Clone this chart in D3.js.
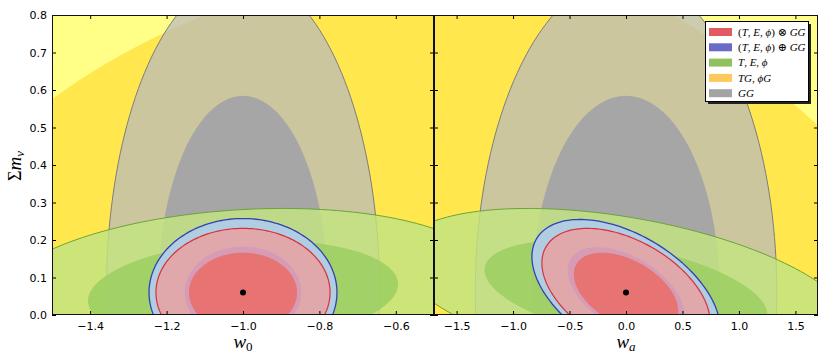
<!DOCTYPE html>
<html>
<head>
<meta charset="utf-8">
<script src="https://cdn.jsdelivr.net/npm/d3@7"></script>
<style>
  body { margin: 0; background: #fff; }
  svg { display: block; }
</style>
</head>
<body>
<svg id="chart" width="830" height="363"></svg>
<script>
// fiducial model
const fidW0 = -1.0;
const fidWa = 0.0;
const fidMnu = 0.06;

// probes: TG,phiG / GG / T,E,phi / (T,E,phi)+GG / (T,E,phi)xGG
const probes = ['TGphiG', 'GG', 'TEphi', 'plus', 'times'];
// 1-sigma widths and correlations
const sigW0 = [0.69, 0.146, 0.267, 0.1004, 0.093];
const sigWa = [2.34, 0.545, 0.824, 0.34, 0.304];
const sigMnuW0 = [0.56, 0.345, 0.0915, 0.0805, 0.0698];
const sigMnuWa = [0.651, 0.345, 0.0915, 0.0795, 0.0698];
const rhoW0 = [0.41, 0, 0.16, 0, 0];
const rhoWa = [-0.57, 0, -0.43, -0.49, -0.46];
const levels = [2.45, 1.52]; // 95% then 68%

const w0Ticks = [-1.4, -1.2, -1.0, -0.8, -0.6];
const waTicks = [-1.5, -1.0, -0.5, 0.0, 0.5, 1.0, 1.5];
const mnuTicks = [0.0, 0.1, 0.2, 0.3, 0.4, 0.5, 0.6, 0.7, 0.8];

// legend labels as [text, italic] pieces
const legendLabels = [
  [['(', 0], ['T', 1], [', ', 0], ['E', 1], [', ', 0], ['\u03d5', 1], [')', 0], [' \u2297 ', 0], ['GG', 1]],
  [['(', 0], ['T', 1], [', ', 0], ['E', 1], [', ', 0], ['\u03d5', 1], [')', 0], [' \u2295 ', 0], ['GG', 1]],
  [['T', 1], [', ', 0], ['E', 1], [', ', 0], ['\u03d5', 1]],
  [['TG', 1], [', ', 0], ['\u03d5G', 1]],
  [['GG', 1]]
];
const legendColors = ['#e15a5f', '#6a6ac8', '#91c060', '#ffc85a', '#a3a3a3'];

// draw order: [probe, level]
const drawOrder = [[0, 0], [0, 1], [1, 0], [1, 1], [2, 0], [2, 1], [3, 0], [4, 0], [3, 1], [4, 1]];
const layerStyle = {
  '0-0': { fill: '#ffff88', op: 1 },
  '0-1': { fill: '#ffe74d', op: 1 },
  '1-0': { fill: 'rgb(187,187,187)', op: 0.75, stroke: '#7d7d7d' },
  '1-1': { fill: '#a6a6a6', op: 1 },
  '2-0': { fill: 'rgb(195,227,129)', op: 0.83, stroke: '#6aa43a' },
  '2-1': { fill: 'rgb(154,206,96)', op: 0.83 },
  '3-0': { fill: '#b1cde1', op: 1, stroke: '#3042b4', sw: 1.3 },
  '4-0': { fill: '#e1a8ac', op: 1, stroke: '#d8303a', sw: 1.2 },
  '3-1': { fill: '#d69bb5', op: 1 },
  '4-1': { fill: '#e77373', op: 1 }
};

const svg = d3.select('#chart');
const y = d3.scaleLinear().domain([0, 0.8]).range([315, 15]);

const panels = [
  { id: 'w0', x: d3.scaleLinear().domain([-1.5, -0.5]).range([52, 434]), ticks: w0Ticks,
    fid: fidW0, sx: sigW0, sy: sigMnuW0, rho: rhoW0, sub: '0', subItalic: false },
  { id: 'wa', x: d3.scaleLinear().domain([-1.7, 1.7]).range([434, 818]), ticks: waTicks,
    fid: fidWa, sx: sigWa, sy: sigMnuWa, rho: rhoWa, sub: 'a', subItalic: true }
];

function ellipse(cx, cy, sx, sy, rho, k) {
  const c = Math.sqrt(1 - rho * rho);
  return d3.range(0, 360, 2).map(a => {
    const t = a * Math.PI / 180;
    return [cx + k * sx * Math.cos(t), cy + k * sy * (rho * Math.cos(t) + c * Math.sin(t))];
  });
}

const fmt = d3.format('.1f');

panels.forEach((p, pi) => {
  const [x0, x1] = p.x.range();
  const clipId = 'clip-' + p.id;
  svg.append('clipPath').attr('id', clipId)
    .append('rect').attr('x', x0).attr('y', 15).attr('width', x1 - x0).attr('height', 300);

  const g = svg.append('g').attr('clip-path', `url(#${clipId})`);
  g.append('rect').attr('x', x0).attr('y', 15).attr('width', x1 - x0).attr('height', 300).attr('fill', '#fff');

  const line = d3.line().x(d => p.x(d[0])).y(d => y(d[1])).curve(d3.curveLinearClosed);

  g.selectAll('path.cl')
    .data(drawOrder)
    .join('path')
    .attr('class', 'cl')
    .attr('d', ([i, l]) => line(ellipse(p.fid, fidMnu, p.sx[i], p.sy[i], p.rho[i], levels[l])))
    .attr('fill', ([i, l]) => layerStyle[i + '-' + l].fill)
    .attr('fill-opacity', ([i, l]) => layerStyle[i + '-' + l].op)
    .attr('stroke', ([i, l]) => layerStyle[i + '-' + l].stroke || 'none')
    .attr('stroke-width', ([i, l]) => layerStyle[i + '-' + l].sw || 1);

  g.append('circle')
    .attr('cx', p.x(p.fid)).attr('cy', y(fidMnu)).attr('r', 3).attr('fill', '#000');

  // axes, ticks pointing inward
  const tickFont = g2 => g2.attr('font-family', 'DejaVu Sans, sans-serif').attr('font-size', 11);
  svg.append('g').attr('transform', 'translate(0,315)')
    .call(d3.axisBottom(p.x).tickValues(p.ticks).tickFormat(fmt).tickSizeInner(-4).tickSizeOuter(0).tickPadding(7))
    .call(tickFont).call(a => a.select('.domain').remove());
  svg.append('g').attr('transform', 'translate(0,15)')
    .call(d3.axisTop(p.x).tickValues(p.ticks).tickFormat('').tickSizeInner(-4).tickSizeOuter(0))
    .call(a => a.select('.domain').remove());
  svg.append('g').attr('transform', `translate(${x0},0)`)
    .call(d3.axisLeft(y).tickValues(mnuTicks).tickFormat(pi === 0 ? fmt : '').tickSizeInner(-4).tickSizeOuter(0).tickPadding(5))
    .call(tickFont).call(a => a.select('.domain').remove());
  svg.append('g').attr('transform', `translate(${x1},0)`)
    .call(d3.axisRight(y).tickValues(mnuTicks).tickFormat('').tickSizeInner(-4).tickSizeOuter(0))
    .call(a => a.select('.domain').remove());

  svg.append('rect')
    .attr('x', x0 + 0.5).attr('y', 15.5).attr('width', x1 - x0 - 1).attr('height', 299)
    .attr('fill', 'none').attr('stroke', '#111').attr('stroke-width', 1);

  // x axis label
  const xl = svg.append('text')
    .attr('x', (x0 + x1) / 2).attr('y', 348)
    .attr('text-anchor', 'middle')
    .attr('font-family', 'Liberation Serif, DejaVu Serif, serif');
  xl.append('tspan').attr('font-style', 'italic').attr('font-size', 19).text('w');
  xl.append('tspan').attr('font-size', 13).attr('dy', 3)
    .attr('font-style', p.subItalic ? 'italic' : 'normal').text(p.sub);
});

// y axis label
const yl = svg.append('text')
  .attr('transform', 'translate(21,166) rotate(-90)')
  .attr('text-anchor', 'middle')
  .attr('font-family', 'Liberation Serif, DejaVu Serif, serif');
yl.append('tspan').attr('font-size', 18).text('\u03a3');
yl.append('tspan').attr('font-size', 19).attr('font-style', 'italic').text('m');
yl.append('tspan').attr('font-size', 13).attr('font-style', 'italic').attr('dy', 3).text('\u03bd');

// legend
const lg = svg.append('g');
lg.append('rect').attr('x', 708).attr('y', 24).attr('width', 103).attr('height', 80).attr('fill', '#222');
lg.append('rect').attr('x', 705.5).attr('y', 21.5).attr('width', 103).attr('height', 80)
  .attr('fill', '#fff').attr('stroke', '#000').attr('stroke-width', 1);

const rows = lg.selectAll('g.row')
  .data(legendLabels)
  .join('g')
  .attr('class', 'row')
  .attr('transform', (d, i) => `translate(0,${32 + i * 15.3})`);

rows.append('rect')
  .attr('x', 709).attr('y', -4).attr('width', 23).attr('height', 8)
  .attr('fill', (d, i) => legendColors[i]);

rows.append('text')
  .attr('x', 738).attr('y', 3.8)
  .attr('font-family', 'Liberation Serif, DejaVu Serif, serif')
  .attr('font-size', 11)
  .selectAll('tspan')
  .data(d => d)
  .join('tspan')
  .attr('font-style', d => d[1] ? 'italic' : 'normal')
  .style('white-space', 'pre')
  .text(d => d[0]);
</script>
</body>
</html>
